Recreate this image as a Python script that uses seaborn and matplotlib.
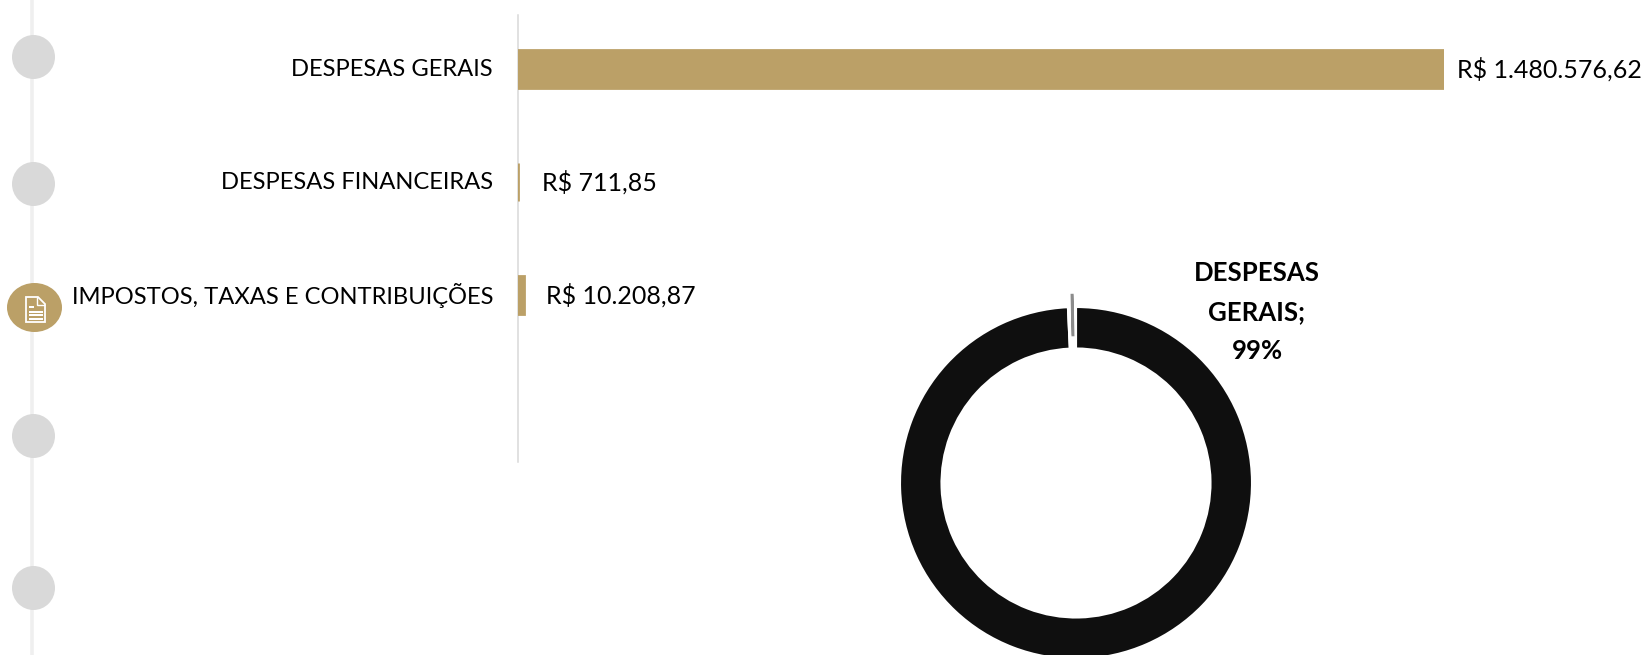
import matplotlib
matplotlib.use("Agg")
import matplotlib.pyplot as plt
import matplotlib.transforms as mtrans
import seaborn as sns
from matplotlib.patches import Ellipse, Polygon, Rectangle

categorias = ["DESPESAS GERAIS", "DESPESAS FINANCEIRAS", "IMPOSTOS, TAXAS E CONTRIBUIÇÕES"]
valores = [1480576.62, 711.85, 10208.87]
rotulos = ["R$ 1.480.576,62", "R$ 711,85", "R$ 10.208,87"]
rotulo_pizza = "DESPESAS\nGERAIS;\n99%"

W, H = 1646, 655
GOLD = "#BBA067"
DARK = "#0F0F0F"
sns.set_theme(style="white")
plt.rcParams["font.family"] = ["Lato", "DejaVu Sans"]

fig = plt.figure(figsize=(W / 100, H / 100), dpi=100, facecolor="white")

def axes_px(x0, y0, x1, y1, **kw):
    return fig.add_axes([x0 / W, 1 - y1 / H, (x1 - x0) / W, (y1 - y0) / H], **kw)

# decorative timeline
deco = axes_px(0, 0, W, H)
deco.set_xlim(0, W); deco.set_ylim(H, 0); deco.axis("off")
deco.plot([32, 32], [0, H], color="#EFEFEF", lw=2.6, solid_capstyle="butt", zorder=1)
for cy_ in [57, 184, 436, 588]:
    deco.add_patch(Ellipse((33.5, cy_), 43, 44, color="#D9D9D9", lw=0, zorder=2))
deco.add_patch(Ellipse((34.5, 307.5), 55, 49, color=GOLD, lw=0, zorder=2))
dx = 2
deco.add_patch(Polygon([(24 + dx, 297), (36 + dx, 297), (43 + dx, 304), (43 + dx, 322), (24 + dx, 322)], closed=True,
                       fc="none", ec="white", lw=1.3, zorder=3))
deco.add_patch(Polygon([(35 + dx, 297), (35 + dx, 305), (43 + dx, 305)], closed=False, fc="none", ec="white", lw=1, zorder=3))
for yy, x2 in [(307, 32), (311.5, 41), (315, 41), (318.5, 41)]:
    deco.add_patch(Rectangle((27 + dx, yy - 1), x2 - 27, 2, color="white", lw=0, zorder=3))

# bar chart
ax = axes_px(518, 12.5, 1443.6, 464.5)
ax.patch.set_alpha(0)
sns.barplot(x=valores, y=categorias, orient="h", color=GOLD, width=38 / 113, saturation=1,
            edgecolor=GOLD, linewidth=2.0, ax=ax)
ax.set_xlim(0, max(valores))
ax.set_ylim(3.5, -0.5)
ax.set_xticks([])
ax.set_xlabel(""); ax.set_ylabel("")
for s in ["top", "right", "bottom"]:
    ax.spines[s].set_visible(False)
ax.spines["left"].set_color("#D9D9D9")
ax.spines["left"].set_linewidth(1.1)
ax.spines["left"].set_bounds(3.48, -0.48)
ax.spines["left"].set_zorder(0.5)
ax.tick_params(axis="y", length=0, pad=18, labelsize=17.1, labelcolor="black")
up = mtrans.ScaledTranslation(0, 2 / 100, fig.dpi_scale_trans)
for t in ax.get_yticklabels():
    t.set_transform(t.get_transform() + up)
offsets = [13, 24, 22]
for i, (v, r, o) in enumerate(zip(valores, rotulos, offsets)):
    ax.annotate(r, (v, i), xytext=(o * 0.72, 0), textcoords="offset points",
                va="center", ha="left", fontsize=18, color="black", annotation_clip=False)

# donut
R = 176
cx, cy = 1076, 483
pie = axes_px(cx - 200, cy - 200, cx + 200, cy + 200)
pie.patch.set_alpha(0)
total = sum(valores)
pie.pie([valores[0], total - valores[0]], colors=[DARK, "none"], startangle=90, counterclock=False,
        radius=R / 200, wedgeprops=dict(width=41.5 / 200, edgecolor="white", linewidth=1.5))
pie.pie([valores[1], total - valores[1]], colors=["#8C8C8C", "none"], startangle=91.1, counterclock=True,
        radius=188 / 200, wedgeprops=dict(width=40 / 200, edgecolor="none"))
pie.patches[-2].set_edgecolor("#8C8C8C")
pie.patches[-2].set_linewidth(1.8)
pie.set_xlim(-1, 1); pie.set_ylim(-1, 1)
ax.set_zorder(1); pie.set_zorder(2)

deco.text(1257, 312, rotulo_pizza, ha="center", va="center", fontsize=18.5, fontweight="bold",
          color="black", linespacing=1.75, zorder=5)
deco.set_zorder(3); deco.patch.set_alpha(0)

fig.savefig("out.png", dpi=100, facecolor="white")
